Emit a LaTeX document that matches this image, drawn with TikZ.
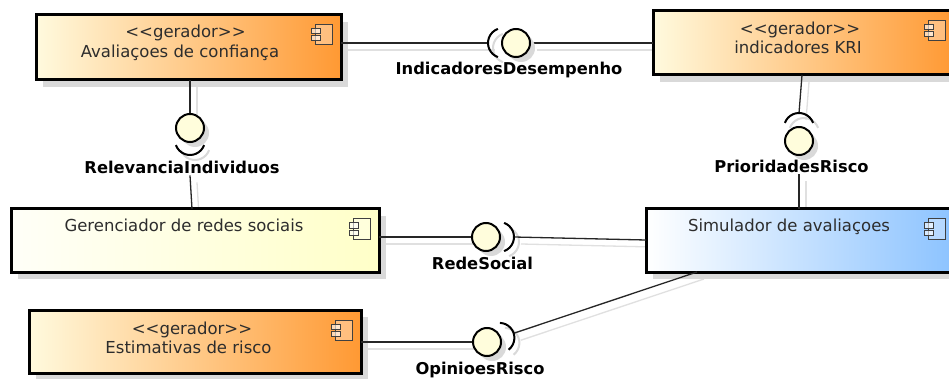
\documentclass[tikz,border=0pt]{standalone}
\usepackage{fontspec}
\setmainfont{DejaVu Sans}
\usetikzlibrary{shadows,calc}
\pgfdeclarelayer{bg}
\pgfdeclarelayer{fg}
\pgfsetlayers{bg,main,fg}

\definecolor{orangeR}{RGB}{255,153,51}
\definecolor{creamL}{RGB}{255,250,222}
\definecolor{yelL}{RGB}{255,255,248}
\definecolor{yelR}{RGB}{255,255,200}
\definecolor{blueL}{RGB}{255,255,255}
\definecolor{blueR}{RGB}{140,195,255}
\definecolor{ballfill}{RGB}{255,253,220}
\definecolor{shadegray}{RGB}{217,217,217}
\definecolor{linegray}{RGB}{224,224,224}
\definecolor{txtgray}{RGB}{45,45,45}

% stereotype text, kept as plain angle brackets
\newcommand\stereo[1]{\textless\kern0pt\textless\kern0pt#1\kern0pt\textgreater\kern0pt\textgreater}

% all connectors between components and interfaces
\newcommand\drawlinks[1]{%
  \draw[#1] (aval.east |- ballD) -- (sockD);
  \draw[#1] (ballD.east) -- (kri.west |- ballD);
  \draw[#1] (aval.south -| ballR) -- (ballR.north);
  \draw[#1] (lblR.south -| ballR) -- ($(gers.north -| ballR)+(2,0)$);
  \draw[#1] ($(kri.south -| ballP)+(3,0)$) -- (sockP);
  \draw[#1] (lblP.south -| ballP) -- (sim.north -| ballP);
  \draw[#1] (gers.east |- ballS) -- (ballS.west);
  \draw[#1] (sockS) -- ($(sim.west |- ballS)+(0,3)$);
  \draw[#1] (est.east |- ballO) -- (ballO.west);
  \draw[#1] (sockO) -- ($(sim.south west)+(51,0)$);
}

\begin{document}
\begin{tikzpicture}[x=1pt,y=-1pt,
  comp/.style={draw=black, line width=3pt, inner sep=0pt, outer sep=0pt,
    drop shadow={shadow xshift=7pt, shadow yshift=-7pt, fill=shadegray, opacity=1}},
  gen/.style={comp, left color=creamL, right color=orangeR},
  plainbox/.style={comp, left color=yelL, right color=yelR},
  simbox/.style={comp, left color=blueL, right color=blueR},
  ball/.style={circle, draw=black, line width=2pt, fill=ballfill,
    minimum size=28pt, inner sep=0pt, outer sep=0pt,
    drop shadow={shadow xshift=5pt, shadow yshift=-5pt, fill=shadegray, opacity=1}},
  sock/.style={draw=black, line width=2pt},
  sockshadow/.style={draw=shadegray, line width=2pt},
  link/.style={draw=black!85, line width=1.3pt},
  linkshadow/.style={draw=linegray, line width=1.3pt},
  boxtxt/.style={anchor=base, inner sep=0pt, text=txtgray, font=\fontsize{16.5}{19}\selectfont},
  ifacelbl/.style={anchor=base, inner sep=1pt, text=black, font=\fontsize{16.3}{19}\selectfont\bfseries},
  iconline/.style={draw=black!75, line width=1pt},
  compicon/.pic={
    \draw[iconline, fill=white, fill opacity=.35] (4,0) rectangle (21,20);
    \draw[iconline, fill=white, fill opacity=.6] (0,4) rectangle (9,9);
    \draw[iconline, fill=white, fill opacity=.6] (0,11) rectangle (9,16);
  }]
\useasboundingbox (0,0) rectangle (949,379);
\begin{pgfonlayer}{bg}
  \fill[white] (0,0) rectangle (949,379);
\end{pgfonlayer}

% components
\node[gen, minimum width=305pt, minimum height=65pt] (aval) at (188.5,47.5) {};
\node[gen, minimum width=301pt, minimum height=64pt] (kri) at (803.5,43) {};
\node[plainbox, minimum width=368pt, minimum height=63pt] (gers) at (195,240.5) {};
\node[simbox, minimum width=308pt, minimum height=63pt] (sim) at (800,240.5) {};
\node[gen, minimum width=332pt, minimum height=63pt] (est) at (195,341.5) {};

\foreach \c in {aval,kri,gers,sim,est}
  \pic at ([shift={(-30,10)}]\c.north east) {compicon};

% component texts
\node[boxtxt] (avalA) at (185.5,38) {\stereo{gerador}};
\node[boxtxt] (avalB) at (180,58) {Avaliaçoes de confiança};
\node[boxtxt] (kriA) at (800,35) {\stereo{gerador}};
\node[boxtxt] (kriB) at (798,54) {indicadores KRI};
\node[boxtxt] (gersA) at (184,231) {Gerenciador de redes sociais};
\node[boxtxt] (simA) at (789,232) {Simulador de avaliaçoes};
\node[boxtxt] (estA) at (192,334) {\stereo{gerador}};
\node[boxtxt] (estB) at (188.5,353) {Estimativas de risco};

% interface labels
\node[ifacelbl] (lblD) at (509,75) {IndicadoresDesempenho};
\node[ifacelbl] (lblR) at (182,174) {RelevanciaIndividuos};
\node[ifacelbl] (lblP) at (791.5,173) {PrioridadesRisco};
\node[ifacelbl] (lblS) at (482.5,269) {RedeSocial};
\node[ifacelbl] (lblO) at (480,374) {OpinioesRisco};

% provided interfaces (balls)
\begin{pgfonlayer}{fg}
  \node[ball] (ballD) at (516,43) {};
  \node[ball] (ballR) at (190,128) {};
  \node[ball] (ballP) at (799,141) {};
  \node[ball] (ballS) at (486,237) {};
  \node[ball] (ballO) at (487,342) {};
\end{pgfonlayer}

% socket centres and outer points
\coordinate (scD) at (503,43);   \coordinate (sockD) at (488,43);
\coordinate (scR) at (190,140);
\coordinate (scP) at (799,128);  \coordinate (sockP) at (799,113);
\coordinate (scS) at (499,237);  \coordinate (sockS) at (514,237);
\coordinate (scO) at (499.4,337.9); \coordinate (sockO) at (513.6,333.3);

% connectors and their shadows
\begin{pgfonlayer}{bg}
  \begin{scope}[transform canvas={shift={(7pt,-7pt)}}]
    \drawlinks{linkshadow}
  \end{scope}
  \begin{scope}[transform canvas={shift={(5pt,-5pt)}}]
    \draw[sockshadow] (scD) ++(110:15) arc[start angle=110, end angle=250, radius=15];
    \draw[sockshadow] (scR) ++(20:15) arc[start angle=20, end angle=160, radius=15];
    \draw[sockshadow] (scP) ++(200:15) arc[start angle=200, end angle=340, radius=15];
    \draw[sockshadow] (scS) ++(-70:15) arc[start angle=-70, end angle=70, radius=15];
    \draw[sockshadow] (scO) ++(-88:15) arc[start angle=-88, end angle=52, radius=15];
  \end{scope}
\end{pgfonlayer}
\drawlinks{link}

% required interfaces (sockets)
\begin{pgfonlayer}{fg}
  \draw[sock] (scD) ++(110:15) arc[start angle=110, end angle=250, radius=15];
  \draw[sock] (scR) ++(20:15) arc[start angle=20, end angle=160, radius=15];
  \draw[sock] (scP) ++(200:15) arc[start angle=200, end angle=340, radius=15];
  \draw[sock] (scS) ++(-70:15) arc[start angle=-70, end angle=70, radius=15];
  \draw[sock] (scO) ++(-88:15) arc[start angle=-88, end angle=52, radius=15];
\end{pgfonlayer}
\end{tikzpicture}
\end{document}
